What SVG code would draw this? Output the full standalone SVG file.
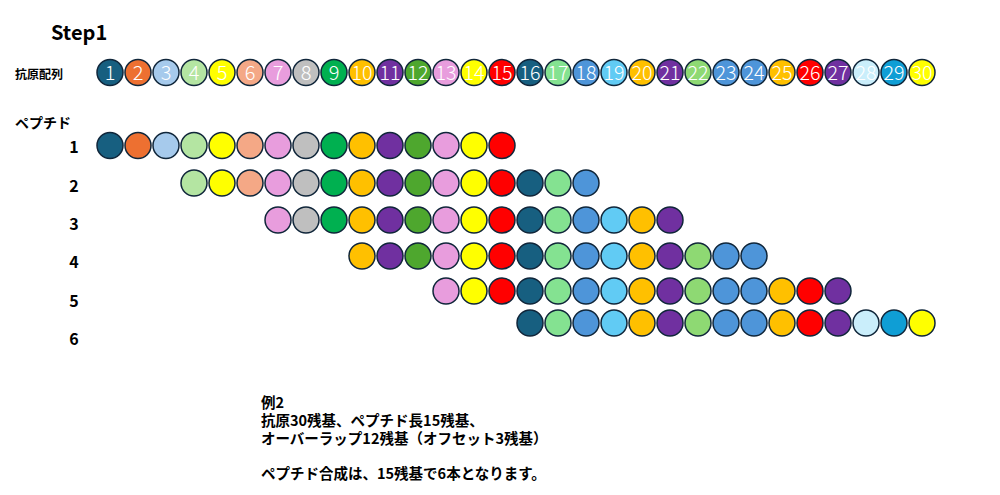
<svg xmlns="http://www.w3.org/2000/svg" width="1000" height="495" viewBox="0 0 1000 495">
<style>
  .bg{fill:#ffffff}
  circle{stroke:#10263a;stroke-width:1.5}
  .num{font-family:"Noto Sans CJK JP","Liberation Sans",sans-serif;font-weight:300;font-size:20px;fill:#ffffff;text-anchor:middle}
  .lbl{font-family:"Noto Sans CJK JP","Liberation Sans",sans-serif;font-weight:700;fill:#000000}
  .rowno{font-family:"Noto Sans CJK JP","Liberation Sans",sans-serif;font-weight:700;font-size:16px;fill:#000000;text-anchor:middle}
  .note{font-family:"Noto Sans CJK JP","Liberation Sans",sans-serif;font-weight:700;font-size:14.5px;fill:#000000}
  .c1,.c16{fill:#175f80}
  .c2{fill:#ed7031}
  .c3{fill:#a6caec}
  .c4{fill:#b4e5a2}
  .c5,.c14,.c30{fill:#ffff00}
  .c6{fill:#f4a886}
  .c7,.c13{fill:#e89ddd}
  .c8{fill:#bfbfbf}
  .c9{fill:#00b050}
  .c10,.c20,.c25{fill:#ffc000}
  .c11,.c21,.c27{fill:#7030a0}
  .c12{fill:#4ea72e}
  .c15,.c26{fill:#ff0000}
  .c17{fill:#84e291}
  .c18,.c23,.c24{fill:#4e95d9}
  .c19{fill:#61cbf4}
  .c22{fill:#8ed973}
  .c28{fill:#caeefb}
  .c29{fill:#0f9ed5}
</style>
<rect class="bg" x="0" y="0" width="1000" height="495"/>

<g id="title"><text class="lbl" x="51" y="40" font-size="20">Step1</text></g>
<g id="label-antigen"><text class="lbl" x="15" y="79" font-size="12">抗原配列</text></g>
<g id="label-peptide"><text class="lbl" x="15" y="128" font-size="14">ペプチド</text></g>

<g id="antigen">
  <g id="ag-1"><circle class="c1" cx="110" cy="72.5" r="13"/><text class="num" x="110" y="80">1</text></g>
  <g id="ag-2"><circle class="c2" cx="138" cy="72.5" r="13"/><text class="num" x="138" y="80">2</text></g>
  <g id="ag-3"><circle class="c3" cx="166" cy="72.5" r="13"/><text class="num" x="166" y="80">3</text></g>
  <g id="ag-4"><circle class="c4" cx="194" cy="72.5" r="13"/><text class="num" x="194" y="80">4</text></g>
  <g id="ag-5"><circle class="c5" cx="222" cy="72.5" r="13"/><text class="num" x="222" y="80">5</text></g>
  <g id="ag-6"><circle class="c6" cx="250" cy="72.5" r="13"/><text class="num" x="250" y="80">6</text></g>
  <g id="ag-7"><circle class="c7" cx="278" cy="72.5" r="13"/><text class="num" x="278" y="80">7</text></g>
  <g id="ag-8"><circle class="c8" cx="306" cy="72.5" r="13"/><text class="num" x="306" y="80">8</text></g>
  <g id="ag-9"><circle class="c9" cx="334" cy="72.5" r="13"/><text class="num" x="334" y="80">9</text></g>
  <g id="ag-10"><circle class="c10" cx="362" cy="72.5" r="13"/><text class="num" x="362" y="80" textLength="21" lengthAdjust="spacingAndGlyphs">10</text></g>
  <g id="ag-11"><circle class="c11" cx="390" cy="72.5" r="13"/><text class="num" x="390" y="80" textLength="21" lengthAdjust="spacingAndGlyphs">11</text></g>
  <g id="ag-12"><circle class="c12" cx="418" cy="72.5" r="13"/><text class="num" x="418" y="80" textLength="21" lengthAdjust="spacingAndGlyphs">12</text></g>
  <g id="ag-13"><circle class="c13" cx="446" cy="72.5" r="13"/><text class="num" x="446" y="80" textLength="21" lengthAdjust="spacingAndGlyphs">13</text></g>
  <g id="ag-14"><circle class="c14" cx="474" cy="72.5" r="13"/><text class="num" x="474" y="80" textLength="21" lengthAdjust="spacingAndGlyphs">14</text></g>
  <g id="ag-15"><circle class="c15" cx="502" cy="72.5" r="13"/><text class="num" x="502" y="80" textLength="21" lengthAdjust="spacingAndGlyphs">15</text></g>
  <g id="ag-16"><circle class="c16" cx="530" cy="72.5" r="13"/><text class="num" x="530" y="80" textLength="21" lengthAdjust="spacingAndGlyphs">16</text></g>
  <g id="ag-17"><circle class="c17" cx="558" cy="72.5" r="13"/><text class="num" x="558" y="80" textLength="21" lengthAdjust="spacingAndGlyphs">17</text></g>
  <g id="ag-18"><circle class="c18" cx="586" cy="72.5" r="13"/><text class="num" x="586" y="80" textLength="21" lengthAdjust="spacingAndGlyphs">18</text></g>
  <g id="ag-19"><circle class="c19" cx="614" cy="72.5" r="13"/><text class="num" x="614" y="80" textLength="21" lengthAdjust="spacingAndGlyphs">19</text></g>
  <g id="ag-20"><circle class="c20" cx="642" cy="72.5" r="13"/><text class="num" x="642" y="80" textLength="21" lengthAdjust="spacingAndGlyphs">20</text></g>
  <g id="ag-21"><circle class="c21" cx="670" cy="72.5" r="13"/><text class="num" x="670" y="80" textLength="21" lengthAdjust="spacingAndGlyphs">21</text></g>
  <g id="ag-22"><circle class="c22" cx="698" cy="72.5" r="13"/><text class="num" x="698" y="80" textLength="21" lengthAdjust="spacingAndGlyphs">22</text></g>
  <g id="ag-23"><circle class="c23" cx="726" cy="72.5" r="13"/><text class="num" x="726" y="80" textLength="21" lengthAdjust="spacingAndGlyphs">23</text></g>
  <g id="ag-24"><circle class="c24" cx="754" cy="72.5" r="13"/><text class="num" x="754" y="80" textLength="21" lengthAdjust="spacingAndGlyphs">24</text></g>
  <g id="ag-25"><circle class="c25" cx="782" cy="72.5" r="13"/><text class="num" x="782" y="80" textLength="21" lengthAdjust="spacingAndGlyphs">25</text></g>
  <g id="ag-26"><circle class="c26" cx="810" cy="72.5" r="13"/><text class="num" x="810" y="80" textLength="21" lengthAdjust="spacingAndGlyphs">26</text></g>
  <g id="ag-27"><circle class="c27" cx="838" cy="72.5" r="13"/><text class="num" x="838" y="80" textLength="21" lengthAdjust="spacingAndGlyphs">27</text></g>
  <g id="ag-28"><circle class="c28" cx="866" cy="72.5" r="13"/><text class="num" x="866" y="80" textLength="21" lengthAdjust="spacingAndGlyphs">28</text></g>
  <g id="ag-29"><circle class="c29" cx="894" cy="72.5" r="13"/><text class="num" x="894" y="80" textLength="21" lengthAdjust="spacingAndGlyphs">29</text></g>
  <g id="ag-30"><circle class="c30" cx="922" cy="72.5" r="13"/><text class="num" x="922" y="80" textLength="21" lengthAdjust="spacingAndGlyphs">30</text></g>
</g>

<g id="peptide-1">
  <text class="rowno" x="74" y="153">1</text>
  <circle class="c1" cx="110" cy="145.5" r="13"/><circle class="c2" cx="138" cy="145.5" r="13"/><circle class="c3" cx="166" cy="145.5" r="13"/><circle class="c4" cx="194" cy="145.5" r="13"/><circle class="c5" cx="222" cy="145.5" r="13"/><circle class="c6" cx="250" cy="145.5" r="13"/><circle class="c7" cx="278" cy="145.5" r="13"/><circle class="c8" cx="306" cy="145.5" r="13"/><circle class="c9" cx="334" cy="145.5" r="13"/><circle class="c10" cx="362" cy="145.5" r="13"/><circle class="c11" cx="390" cy="145.5" r="13"/><circle class="c12" cx="418" cy="145.5" r="13"/><circle class="c13" cx="446" cy="145.5" r="13"/><circle class="c14" cx="474" cy="145.5" r="13"/><circle class="c15" cx="502" cy="145.5" r="13"/>
</g>
<g id="peptide-2">
  <text class="rowno" x="74" y="192">2</text>
  <circle class="c4" cx="194" cy="183" r="13"/><circle class="c5" cx="222" cy="183" r="13"/><circle class="c6" cx="250" cy="183" r="13"/><circle class="c7" cx="278" cy="183" r="13"/><circle class="c8" cx="306" cy="183" r="13"/><circle class="c9" cx="334" cy="183" r="13"/><circle class="c10" cx="362" cy="183" r="13"/><circle class="c11" cx="390" cy="183" r="13"/><circle class="c12" cx="418" cy="183" r="13"/><circle class="c13" cx="446" cy="183" r="13"/><circle class="c14" cx="474" cy="183" r="13"/><circle class="c15" cx="502" cy="183" r="13"/><circle class="c16" cx="530" cy="183" r="13"/><circle class="c17" cx="558" cy="183" r="13"/><circle class="c18" cx="586" cy="183" r="13"/>
</g>
<g id="peptide-3">
  <text class="rowno" x="74" y="230">3</text>
  <circle class="c7" cx="278" cy="220" r="13"/><circle class="c8" cx="306" cy="220" r="13"/><circle class="c9" cx="334" cy="220" r="13"/><circle class="c10" cx="362" cy="220" r="13"/><circle class="c11" cx="390" cy="220" r="13"/><circle class="c12" cx="418" cy="220" r="13"/><circle class="c13" cx="446" cy="220" r="13"/><circle class="c14" cx="474" cy="220" r="13"/><circle class="c15" cx="502" cy="220" r="13"/><circle class="c16" cx="530" cy="220" r="13"/><circle class="c17" cx="558" cy="220" r="13"/><circle class="c18" cx="586" cy="220" r="13"/><circle class="c19" cx="614" cy="220" r="13"/><circle class="c20" cx="642" cy="220" r="13"/><circle class="c21" cx="670" cy="220" r="13"/>
</g>
<g id="peptide-4">
  <text class="rowno" x="74" y="268">4</text>
  <circle class="c10" cx="362" cy="256" r="13"/><circle class="c11" cx="390" cy="256" r="13"/><circle class="c12" cx="418" cy="256" r="13"/><circle class="c13" cx="446" cy="256" r="13"/><circle class="c14" cx="474" cy="256" r="13"/><circle class="c15" cx="502" cy="256" r="13"/><circle class="c16" cx="530" cy="256" r="13"/><circle class="c17" cx="558" cy="256" r="13"/><circle class="c18" cx="586" cy="256" r="13"/><circle class="c19" cx="614" cy="256" r="13"/><circle class="c20" cx="642" cy="256" r="13"/><circle class="c21" cx="670" cy="256" r="13"/><circle class="c22" cx="698" cy="256" r="13"/><circle class="c23" cx="726" cy="256" r="13"/><circle class="c24" cx="754" cy="256" r="13"/>
</g>
<g id="peptide-5">
  <text class="rowno" x="74" y="307">5</text>
  <circle class="c13" cx="446" cy="291" r="13"/><circle class="c14" cx="474" cy="291" r="13"/><circle class="c15" cx="502" cy="291" r="13"/><circle class="c16" cx="530" cy="291" r="13"/><circle class="c17" cx="558" cy="291" r="13"/><circle class="c18" cx="586" cy="291" r="13"/><circle class="c19" cx="614" cy="291" r="13"/><circle class="c20" cx="642" cy="291" r="13"/><circle class="c21" cx="670" cy="291" r="13"/><circle class="c22" cx="698" cy="291" r="13"/><circle class="c23" cx="726" cy="291" r="13"/><circle class="c24" cx="754" cy="291" r="13"/><circle class="c25" cx="782" cy="291" r="13"/><circle class="c26" cx="810" cy="291" r="13"/><circle class="c27" cx="838" cy="291" r="13"/>
</g>
<g id="peptide-6">
  <text class="rowno" x="74" y="345">6</text>
  <circle class="c16" cx="530" cy="323" r="13"/><circle class="c17" cx="558" cy="323" r="13"/><circle class="c18" cx="586" cy="323" r="13"/><circle class="c19" cx="614" cy="323" r="13"/><circle class="c20" cx="642" cy="323" r="13"/><circle class="c21" cx="670" cy="323" r="13"/><circle class="c22" cx="698" cy="323" r="13"/><circle class="c23" cx="726" cy="323" r="13"/><circle class="c24" cx="754" cy="323" r="13"/><circle class="c25" cx="782" cy="323" r="13"/><circle class="c26" cx="810" cy="323" r="13"/><circle class="c27" cx="838" cy="323" r="13"/><circle class="c28" cx="866" cy="323" r="13"/><circle class="c29" cx="894" cy="323" r="13"/><circle class="c30" cx="922" cy="323" r="13"/>
</g>

<g id="connectors"></g>

<g id="note">
  <text class="note" x="261" y="408"><tspan x="261" y="408">例2</tspan><tspan x="261" y="426">抗原30残基、ペプチド長15残基、</tspan><tspan x="261" y="444">オーバーラップ12残基（オフセット3残基）</tspan><tspan x="261" y="479">ペプチド合成は、15残基で6本となります。</tspan></text>
</g>
</svg>
